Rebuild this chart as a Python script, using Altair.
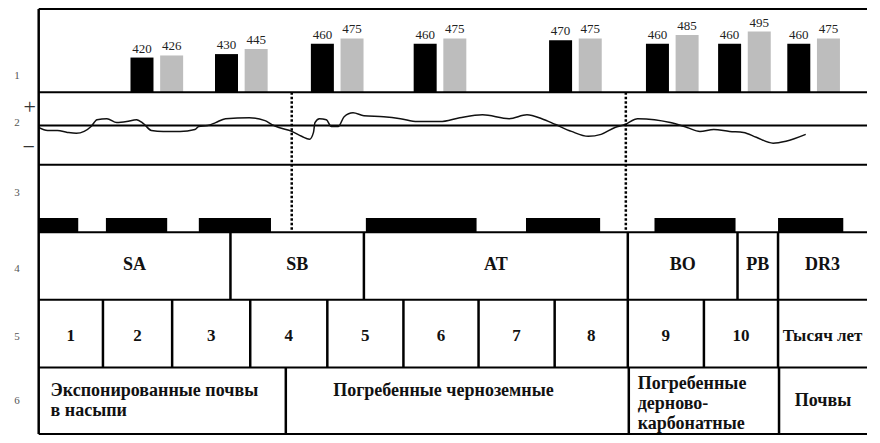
import altair as alt
import pandas as pd

# ---------------- data ----------------
# Row 1: paired bars (black / gray) with their values
pair_pos = [153.5, 239, 336, 440, 577, 675, 748, 818]
black_vals = [420, 430, 460, 460, 470, 460, 460, 460]
gray_vals = [426, 445, 475, 475, 475, 485, 495, 475]

# Row 2: wavy curve (anomaly, arbitrary units)
curve_x = [34, 43, 53, 63, 72, 80, 87, 93, 103, 113, 123, 133, 140, 148, 160, 177,
           192, 196, 205, 213, 223, 247, 263, 270, 277, 290, 300, 308, 312, 313.5,
           318, 325, 330, 337, 343, 352, 363, 383, 400, 417, 440, 460, 483, 510,
           528, 543, 557, 573, 590, 603, 617, 627, 640, 657, 673, 690, 703, 717,
           733, 747, 760, 777, 790, 810]
curve_v = [-0.2, -0.5, -0.5, -0.7, -0.8, -0.6, -0.1, 0.6, 0.7, 0.3, 0.4, 0.6, 0.2, -0.5,
           -0.6, -0.6, -0.4, -0.1, 0.0, 0.3, 0.7, 0.8, 0.5, 0.1, -0.2, -0.6, -1.1, -1.4,
           -0.7, 0.3, 0.7, 0.6, -0.1, -0.1, 0.9, 1.3, 1.0, 0.9, 0.7, 0.4, 0.4, 0.8, 1.1,
           0.7, 1.1, 0.7, 0.1, -0.6, -1.1, -0.9, -0.2, 0.1, 0.7, 0.6, 0.3, -0.2, -0.6,
           -0.4, -0.6, -0.7, -1.2, -1.8, -1.6, -0.9]

# Row 3: black intervals
block_start = [34, 102, 196, 365, 527, 657, 782]
block_end = [74, 164, 269, 477, 602, 739, 848]

# Dotted boundaries through rows 2-3
dotted_x = [290, 628]

# Row 4: zones
zone_labels = ["SA", "SB", "AT", "BO", "PB", "DR3"]
zone_bounds = [34, 228, 363, 630, 741, 782, 872]

# Row 5: periods
period_labels = ["1", "2", "3", "4", "5", "6", "7", "8", "9", "10", "Тысяч лет"]
period_bounds = [34, 99, 169, 248, 326, 403, 479, 556, 630, 707, 782, 872]

# Row 6: soils
soil_labels = ["Экспонированные почвы\nв насыпи", "Погребенные черноземные",
               "Погребенные\nдерново-\nкарбонатные", "Почвы"]
soil_bounds = [34, 284, 631, 783, 872]

row_labels = ["1", "2", "3", "4", "5", "6"]

# ---------------- layout (code constants) ----------------
W, H = 864, 427
X_DOM = [8, 872]
X_RIGHT = 872
ROW_EDGES = [7, 92, 166, 235, 304, 373, 441]


def ry(ref):
    return 1 + (ref - 7) * (H - 2) / 434


row_scale = alt.Scale(domain=list(range(7)), range=[ry(e) for e in ROW_EDGES],
                      nice=False, zero=False)
bar_scale = alt.Scale(domain=[320, 560], range=[ry(92), ry(7)], nice=False, zero=False)
line_scale = alt.Scale(domain=[-4.0, 3.4], range=[ry(166), ry(92)], nice=False, zero=False)
xs = alt.Scale(domain=X_DOM, nice=False, zero=False)

SERIF = "Liberation Serif"


def X(f):
    return alt.X(f, type="quantitative", scale=xs, axis=None)


def YR(f):
    return alt.Y(f, type="quantitative", scale=row_scale, axis=None)


# ---------------- tables ----------------
bar_rows = []
for p, b, g in zip(pair_pos, black_vals, gray_vals):
    bar_rows.append({"pos": p - 15, "value": b, "kind": "black", "base": 320})
    bar_rows.append({"pos": p + 15, "value": g, "kind": "gray", "base": 320})
bars_df = pd.DataFrame(bar_rows)

curve_df = pd.DataFrame({"x": curve_x, "v": curve_v})
blocks_df = pd.DataFrame({"x0": block_start, "x1": block_end, "r0": 2.79, "r1": 3.0})
hl_df = pd.DataFrame({"x0": 34, "x1": X_RIGHT, "r": list(range(7))})

vseg = [{"x": 34, "r0": 0, "r1": 6}]
for b in zone_bounds[1:-1]:
    vseg.append({"x": b, "r0": 3, "r1": 4})
for b in period_bounds[1:-1]:
    vseg.append({"x": b, "r0": 4, "r1": 5})
for b in soil_bounds[1:-1]:
    vseg.append({"x": b, "r0": 5, "r1": 6})
vseg_df = pd.DataFrame(vseg)

dot_df = pd.DataFrame({"x": dotted_x, "r0": 1.0, "r1": 2.99})

zone_df = pd.DataFrame({"t": zone_labels,
                        "x": [(a + b) / 2 for a, b in zip(zone_bounds[:-1], zone_bounds[1:])],
                        "r": 3.48})
period_df = pd.DataFrame({"t": period_labels,
                          "x": [(a + b) / 2 for a, b in zip(period_bounds[:-1], period_bounds[1:])],
                          "r": 4.53})
# multi-line texts: y is the first line's centre
soil_left_df = pd.DataFrame({"t": [soil_labels[0], soil_labels[2]],
                             "x": [soil_bounds[0] + 12, soil_bounds[2] + 9],
                             "r": [5.35, 5.25]})
soil_center_df = pd.DataFrame({"t": [soil_labels[1], soil_labels[3]],
                               "x": [(soil_bounds[1] + soil_bounds[2]) / 2 - 14,
                                     (soil_bounds[3] + soil_bounds[4]) / 2],
                               "r": [5.35, 5.51]})
rowlab_df = pd.DataFrame({"t": row_labels, "x": 12, "r": [0.8, 1.42, 2.42, 3.54, 4.55, 5.5]})
pm_df = pd.DataFrame({"t": ["+", "−"], "x": [25, 24], "v": [1.9, -2.2]})

# ---------------- layers ----------------
bars = alt.Chart(bars_df).mark_bar(size=23).encode(
    x=X("pos"),
    y=alt.Y("value", type="quantitative", scale=bar_scale, axis=None),
    y2="base",
    color=alt.Color("kind:N", scale=alt.Scale(domain=["black", "gray"],
                                              range=["#000000", "#bdbdbd"]), legend=None),
)
bar_text = alt.Chart(bars_df).mark_text(baseline="bottom", dy=-2, font=SERIF,
                                        fontSize=13, color="#222").encode(
    x=X("pos"),
    y=alt.Y("value", type="quantitative", scale=bar_scale, axis=None),
    text=alt.Text("value:Q"),
)

zero = alt.Chart(pd.DataFrame({"x0": [34], "x1": [X_RIGHT], "v": [0]})).mark_rule(
    color="black", strokeWidth=2).encode(
    x=X("x0"), x2="x1",
    y=alt.Y("v", type="quantitative", scale=line_scale, axis=None),
)
curve = alt.Chart(curve_df).mark_line(interpolate="monotone", color="#111",
                                      strokeWidth=1.5).encode(
    x=X("x"),
    y=alt.Y("v", type="quantitative", scale=line_scale, axis=None),
)
pm = alt.Chart(pm_df).mark_text(font=SERIF, fontSize=22, color="#333",
                                baseline="middle").encode(
    x=X("x"),
    y=alt.Y("v", type="quantitative", scale=line_scale, axis=None),
    text="t:N",
)

blocks = alt.Chart(blocks_df).mark_rect(color="black").encode(
    x=X("x0"), x2="x1", y=YR("r0"), y2="r1")

hlines = alt.Chart(hl_df).mark_rule(color="black", strokeWidth=2).encode(
    x=X("x0"), x2="x1", y=YR("r"))
vlines = alt.Chart(vseg_df).mark_rule(color="black", strokeWidth=2.5).encode(
    x=X("x"), y=YR("r0"), y2="r1")
dots = alt.Chart(dot_df).mark_rule(color="black", strokeWidth=2.5,
                                   strokeDash=[2.5, 2]).encode(
    x=X("x"), y=YR("r0"), y2="r1")


def cell_text(df, align="center", size=18):
    return alt.Chart(df).mark_text(font=SERIF, fontSize=size, fontWeight="bold",
                                   color="#111", align=align, baseline="middle",
                                   lineBreak="\n", lineHeight=20).encode(
        x=X("x"), y=YR("r"), text="t:N")


zones = cell_text(zone_df)
periods = cell_text(period_df, size=17)
soils_l = cell_text(soil_left_df, align="left")
soils_c = cell_text(soil_center_df)

rowlabs = alt.Chart(rowlab_df).mark_text(font=SERIF, fontSize=11, color="#555",
                                         baseline="middle").encode(
    x=X("x"), y=YR("r"), text="t:N")

chart = alt.layer(
    blocks, bars, bar_text, zero, curve, pm, hlines, vlines, dots,
    zones, periods, soils_l, soils_c, rowlabs,
).resolve_scale(y="independent").properties(
    width=W, height=H, padding=0,
    autosize=alt.AutoSizeParams(type="none"),
    background="white",
).configure_view(stroke=None)

chart.save("out.html", embed_options={"renderer": "svg", "actions": False})
